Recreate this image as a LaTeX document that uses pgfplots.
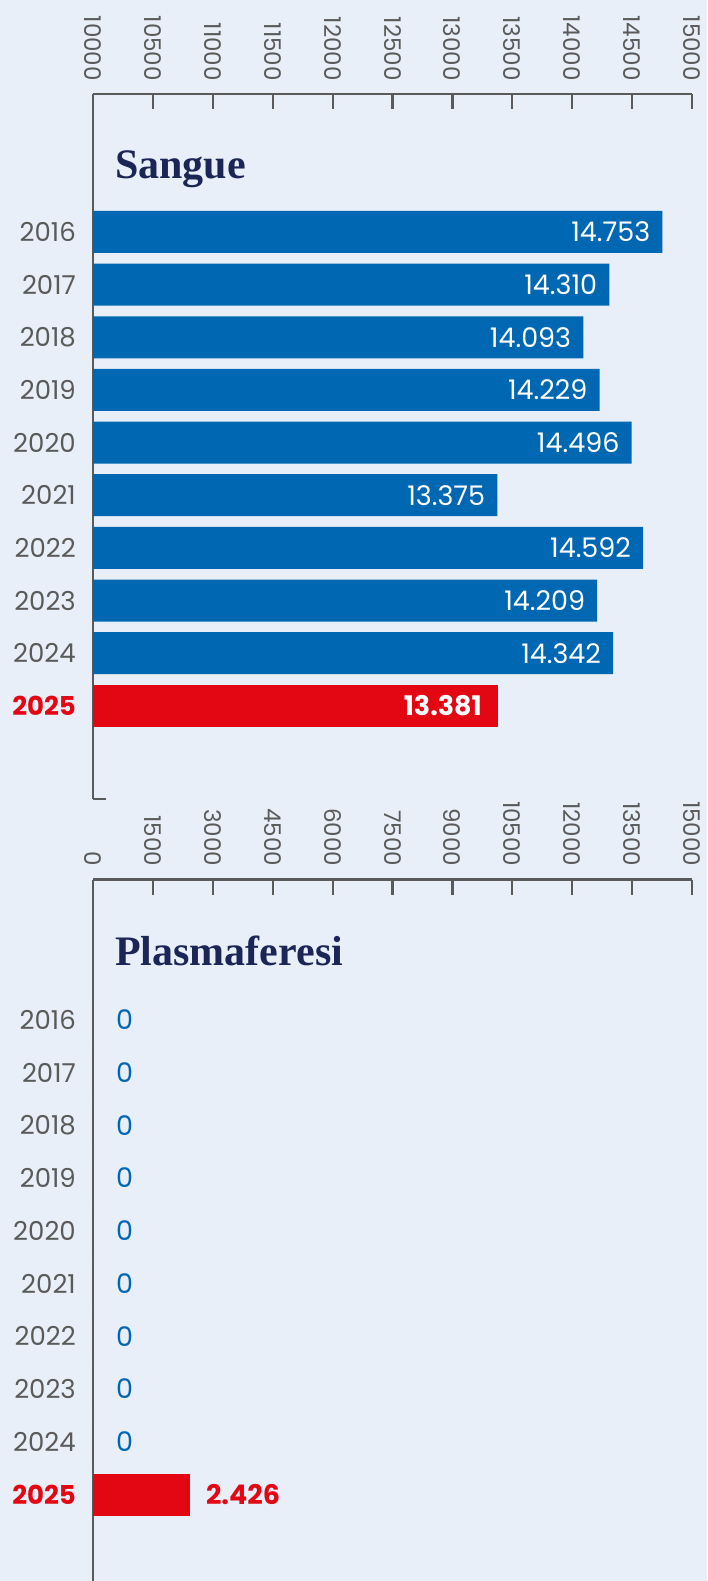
\documentclass[border=0pt]{standalone}
\usepackage{pgfplots}
\pgfplotsset{compat=1.18}
\usepackage{fontspec}
\setmainfont{Poppins}
\newfontfamily\titlefont{Liberation Serif}
\definecolor{bg}{HTML}{E9EFF9}
\definecolor{barblue}{HTML}{0068B2}
\definecolor{barred}{HTML}{E30613}
\definecolor{navy}{HTML}{1B2656}
\definecolor{axgray}{HTML}{5A5A5A}
\pgfplotsset{
 common/.style={
  scale only axis, width=599pt,
  axis x line=top, axis y line=left,
  axis line style={-, line width=2.2pt, axgray},
  ytick={0,...,9},
  yticklabels={{\textcolor{barred}{\bfseries 2025}},2024,2023,2022,2021,2020,2019,2018,2017,2016},
  ytick style={draw=none},
  yticklabel style={font=\fontsize{26}{30}\selectfont, text=axgray, inner sep=0pt, anchor=east, xshift=-2pt},
  xtick style={line width=2.2pt, axgray},
  major tick length=15pt, tick align=inside,
  scaled x ticks=false,
  xticklabel style={font=\fontsize{23}{26}\selectfont, text=axgray, inner sep=0pt, yshift=13pt, rotate=-90, anchor=east},
  /pgf/number format/assume math mode=true,
  /pgf/number format/set thousands separator={},
  xbar, bar width=42pt, bar shift=0pt,
  clip mode=individual,
  point meta=explicit symbolic,
  nodes near coords,
  every node near coord/.append style={font=\fontsize{27}{30}\selectfont, inner sep=0pt},
 }
}
\begin{document}
\begin{tikzpicture}
\fill[bg] (0pt,0pt) rectangle (707pt,-1581pt);
\useasboundingbox (0pt,0pt) rectangle (707pt,-1581pt);

\begin{axis}[common, at={(93pt,-94pt)}, anchor=north west, height=705pt,
  xmin=10000, xmax=15000, xtick={10000,10500,...,15000},
  ymin=-1.77, ymax=11.62]
\addplot[fill=barblue, draw=none, every node near coord/.append style={anchor=east, xshift=-12pt, text=white}] coordinates {
 (14753,9) [14.753]
 (14310,8) [14.310]
 (14093,7) [14.093]
 (14229,6) [14.229]
 (14496,5) [14.496]
 (13375,4) [13.375]
 (14592,3) [14.592]
 (14209,2) [14.209]
 (14342,1) [14.342]
};
\addplot[fill=barred, draw=none, every node near coord/.append style={anchor=east, xshift=-16pt, text=white, font=\fontsize{27}{30}\selectfont\bfseries}] coordinates {
 (13381,0) [13.381]
};
\draw[axgray, line width=2.2pt] (axis cs:10000,-1.77) -- ++(13pt,0pt);
\end{axis}

\begin{axis}[common, at={(93pt,-879.5pt)}, anchor=north west, height=701.5pt,
  xmin=0, xmax=15000, xtick={0,1500,...,15000},
  ymin=-1.64, ymax=11.66]
\addplot[fill=barblue, draw=none, every node near coord/.append style={anchor=west, xshift=23pt, text=barblue}] coordinates {
 (0,9) [0]
 (0,8) [0]
 (0,7) [0]
 (0,6) [0]
 (0,5) [0]
 (0,4) [0]
 (0,3) [0]
 (0,2) [0]
 (0,1) [0]
};
\addplot[fill=barred, draw=none, every node near coord/.append style={anchor=west, xshift=16pt, text=barred, font=\fontsize{27}{30}\selectfont\bfseries}] coordinates {
 (2426,0) [2.426]
};
\end{axis}

\node[anchor=base west, text=navy, font=\titlefont\bfseries\fontsize{42}{46}\selectfont, inner sep=0pt] at (115pt,-178.5pt) {Sangue};
\node[anchor=base west, text=navy, font=\titlefont\bfseries\fontsize{42}{46}\selectfont, inner sep=0pt] at (115pt,-965pt) {Plasmaferesi};
\end{tikzpicture}
\end{document}
